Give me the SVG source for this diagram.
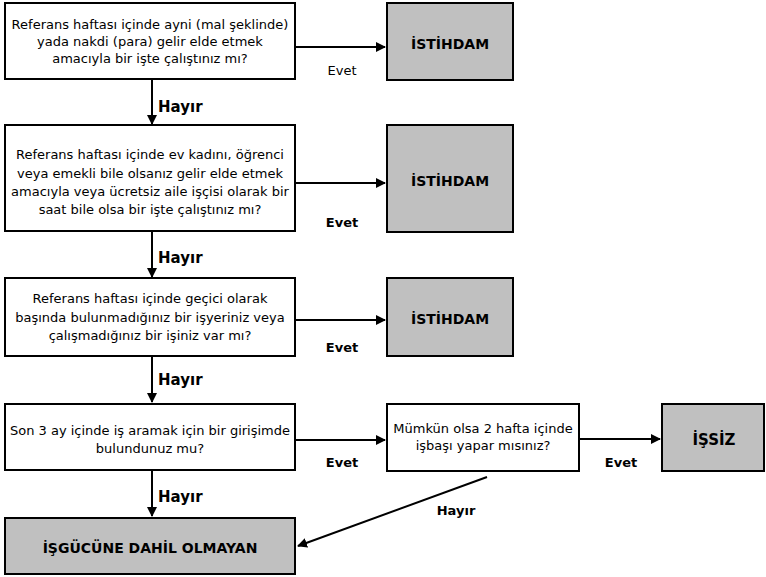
<svg xmlns="http://www.w3.org/2000/svg" width="766" height="577" viewBox="0 0 766 577">
<style>
.q{fill:#fff;stroke:#000;stroke-width:2}
.r{fill:#c0c0c0;stroke:#000;stroke-width:2}
text{font-family:"DejaVu Sans",Verdana,sans-serif;font-size:13px;fill:#000;text-anchor:middle}
.b{font-weight:bold}
.t{font-weight:bold;font-size:14px}
.h{font-weight:bold;font-size:15px;text-anchor:start}
.c{stroke:#000;stroke-width:2;fill:none;marker-end:url(#ah)}
</style>
<defs>
<marker id="ah" markerWidth="10" markerHeight="10" refX="9" refY="5" orient="auto" markerUnits="userSpaceOnUse">
<path d="M0,0 L10,5 L0,10 Z" fill="#000"/>
</marker>
</defs>
<rect width="766" height="577" fill="#fff"/>
<g id="connectors">
<path class="c" d="M295,47 H385"/>
<path class="c" d="M152,80 V124"/>
<path class="c" d="M295,183 H385"/>
<path class="c" d="M152,231 V277"/>
<path class="c" d="M295,320 H385"/>
<path class="c" d="M152,357 V402"/>
<path class="c" d="M295,440 H385"/>
<path class="c" d="M579,439 H660"/>
<path class="c" d="M152,471 V516"/>
<path class="c" d="M487,477 L298,546"/>
<text x="342" y="75">Evet</text>
<text class="h" x="158" y="112">Hayır</text>
<text class="b" x="342" y="227">Evet</text>
<text class="h" x="158" y="263">Hayır</text>
<text class="b" x="342" y="352">Evet</text>
<text class="h" x="158" y="385">Hayır</text>
<text class="b" x="342" y="467">Evet</text>
<text class="b" x="621" y="467">Evet</text>
<text class="h" x="158" y="502">Hayır</text>
<text class="b" x="456" y="515">Hayır</text>
</g>
<g id="q1">
<rect class="q" x="5" y="3" width="290" height="76"/>
<text x="150" y="29">Referans haftası içinde ayni (mal şeklinde)</text>
<text x="150" y="46">yada nakdi (para) gelir elde etmek</text>
<text x="150" y="63">amacıyla bir işte çalıştınız mı?</text>
</g>
<g id="e1">
<rect class="r" x="387" y="3" width="126" height="77"/>
<text class="t" x="450" y="49">İSTİHDAM</text>
</g>
<g id="q2">
<rect class="q" x="5" y="125" width="290" height="106"/>
<text x="150" y="159">Referans haftası içinde ev kadını, öğrenci</text>
<text x="150" y="178">veya emekli bile olsanız gelir elde etmek</text>
<text x="150" y="196">amacıyla veya ücretsiz aile işçisi olarak bir</text>
<text x="150" y="214">saat bile olsa bir işte çalıştınız mı?</text>
</g>
<g id="e2">
<rect class="r" x="387" y="125" width="126" height="107"/>
<text class="t" x="450" y="186">İSTİHDAM</text>
</g>
<g id="q3">
<rect class="q" x="5" y="278" width="290" height="78"/>
<text x="150" y="303">Referans haftası içinde geçici olarak</text>
<text x="150" y="322">başında bulunmadığınız bir işyeriniz veya</text>
<text x="150" y="340">çalışmadığınız bir işiniz var mı?</text>
</g>
<g id="e3">
<rect class="r" x="387" y="278" width="126" height="78"/>
<text class="t" x="450" y="324">İSTİHDAM</text>
</g>
<g id="q4">
<rect class="q" x="5" y="404" width="290" height="66"/>
<text x="150" y="435">Son 3 ay içinde iş aramak için bir girişimde</text>
<text x="150" y="453">bulundunuz mu?</text>
</g>
<g id="q5">
<rect class="q" x="387" y="404" width="192" height="67"/>
<text x="483" y="433">Mümkün olsa 2 hafta içinde</text>
<text x="483" y="450">işbaşı yapar mısınız?</text>
</g>
<g id="e4">
<rect class="r" x="662" y="404" width="102" height="67"/>
<text class="b" x="714" y="445" style="font-size:15px">İŞSİZ</text>
</g>
<g id="e5">
<rect class="r" x="5" y="518" width="290" height="56"/>
<text class="t" x="150" y="553">İŞGÜCÜNE DAHİL OLMAYAN</text>
</g>
</svg>
